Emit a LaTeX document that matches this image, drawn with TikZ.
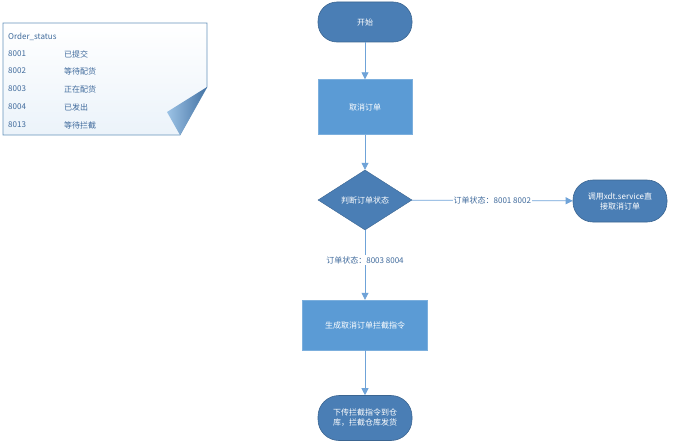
\documentclass[tikz,border=0pt]{standalone}
\usepackage{fontspec}
\setmainfont{Noto Sans CJK SC}
\usetikzlibrary{shapes.geometric,arrows.meta,shadings}
\definecolor{dkb}{HTML}{4A7EB5}
\definecolor{ltb}{HTML}{5B9BD5}
\definecolor{ln}{HTML}{6FA3D8}
\definecolor{txt}{HTML}{3F6A9C}
\begin{document}
\begin{tikzpicture}[x=1pt,y=-1pt,font=\fontsize{8}{10}\selectfont,
  pill/.style={draw=dkb!80!black,fill=dkb,text=white,rounded corners=19pt,minimum width=94pt,minimum height=40pt,align=center,line width=0.6pt},
  boxr/.style={draw=ltb!80!white,fill=ltb,text=white,minimum width=94pt,minimum height=55pt,align=center},
  dia/.style={diamond,draw=dkb!80!black,fill=dkb,text=white,aspect=1.55,minimum width=94pt,minimum height=60pt,inner sep=0pt},
  arr/.style={draw=ln,line width=0.8pt,-{Triangle[length=7pt,width=7pt]}},
  lbl/.style={fill=white,text=txt,inner sep=1pt}]
\useasboundingbox (0,0) rectangle (676,444);
% note
\shade[top color=white,bottom color=ltb!12] (3,23)--(207,23)--(207,87)--(180,135)--(3,135)--cycle;
\draw[draw=ltb!70!gray,line width=0.7pt] (3,23)--(207,23)--(207,87)--(180,135)--(3,135)--cycle;
\shade[left color=ltb!60,right color=dkb!90!black,draw=none] (207,87)--(167,112)--(180,135)--cycle;
\begin{scope}[every node/.style={text=txt,anchor=west,inner sep=0pt}]
\node (t0) at (8,37) {Order\_status};
\node (a1) at (8,54) {8001}; \node (b1) at (64,54) {已提交};
\node (a2) at (8,71) {8002}; \node (b2) at (64,71) {等待配货};
\node (a3) at (8,89) {8003}; \node (b3) at (64,89) {正在配货};
\node (a4) at (8,107) {8004}; \node (b4) at (64,107) {已发出};
\node (a5) at (8,125) {8013}; \node (b5) at (64,125) {等待拦截};
\end{scope}
\node[pill] (start) at (365,22) {开始};
\node[boxr] (cancel) at (365,107) {取消订单};
\node[dia] (judge) at (365,200) {判断订单状态};
\node[pill,minimum height=42pt,rounded corners=20pt] (direct) at (620,201) {调用xdt.service直\\接取消订单};
\node[boxr,minimum width=125pt,minimum height=50pt] (gen) at (365,325) {生成取消订单拦截指令};
\node[pill,minimum height=45pt,rounded corners=21pt] (down) at (365,418) {下传拦截指令到仓\\库，拦截仓库发货};
\draw[arr] (start) -- (cancel);
\draw[arr] (cancel) -- (judge);
\draw[arr] (judge) -- node[lbl] {订单状态：8001 8002} (direct);
\draw[arr] (judge) -- node[lbl,pos=0.43] {订单状态：8003 8004} (gen);
\draw[arr] (gen) -- (down);
\end{tikzpicture}
\end{document}
